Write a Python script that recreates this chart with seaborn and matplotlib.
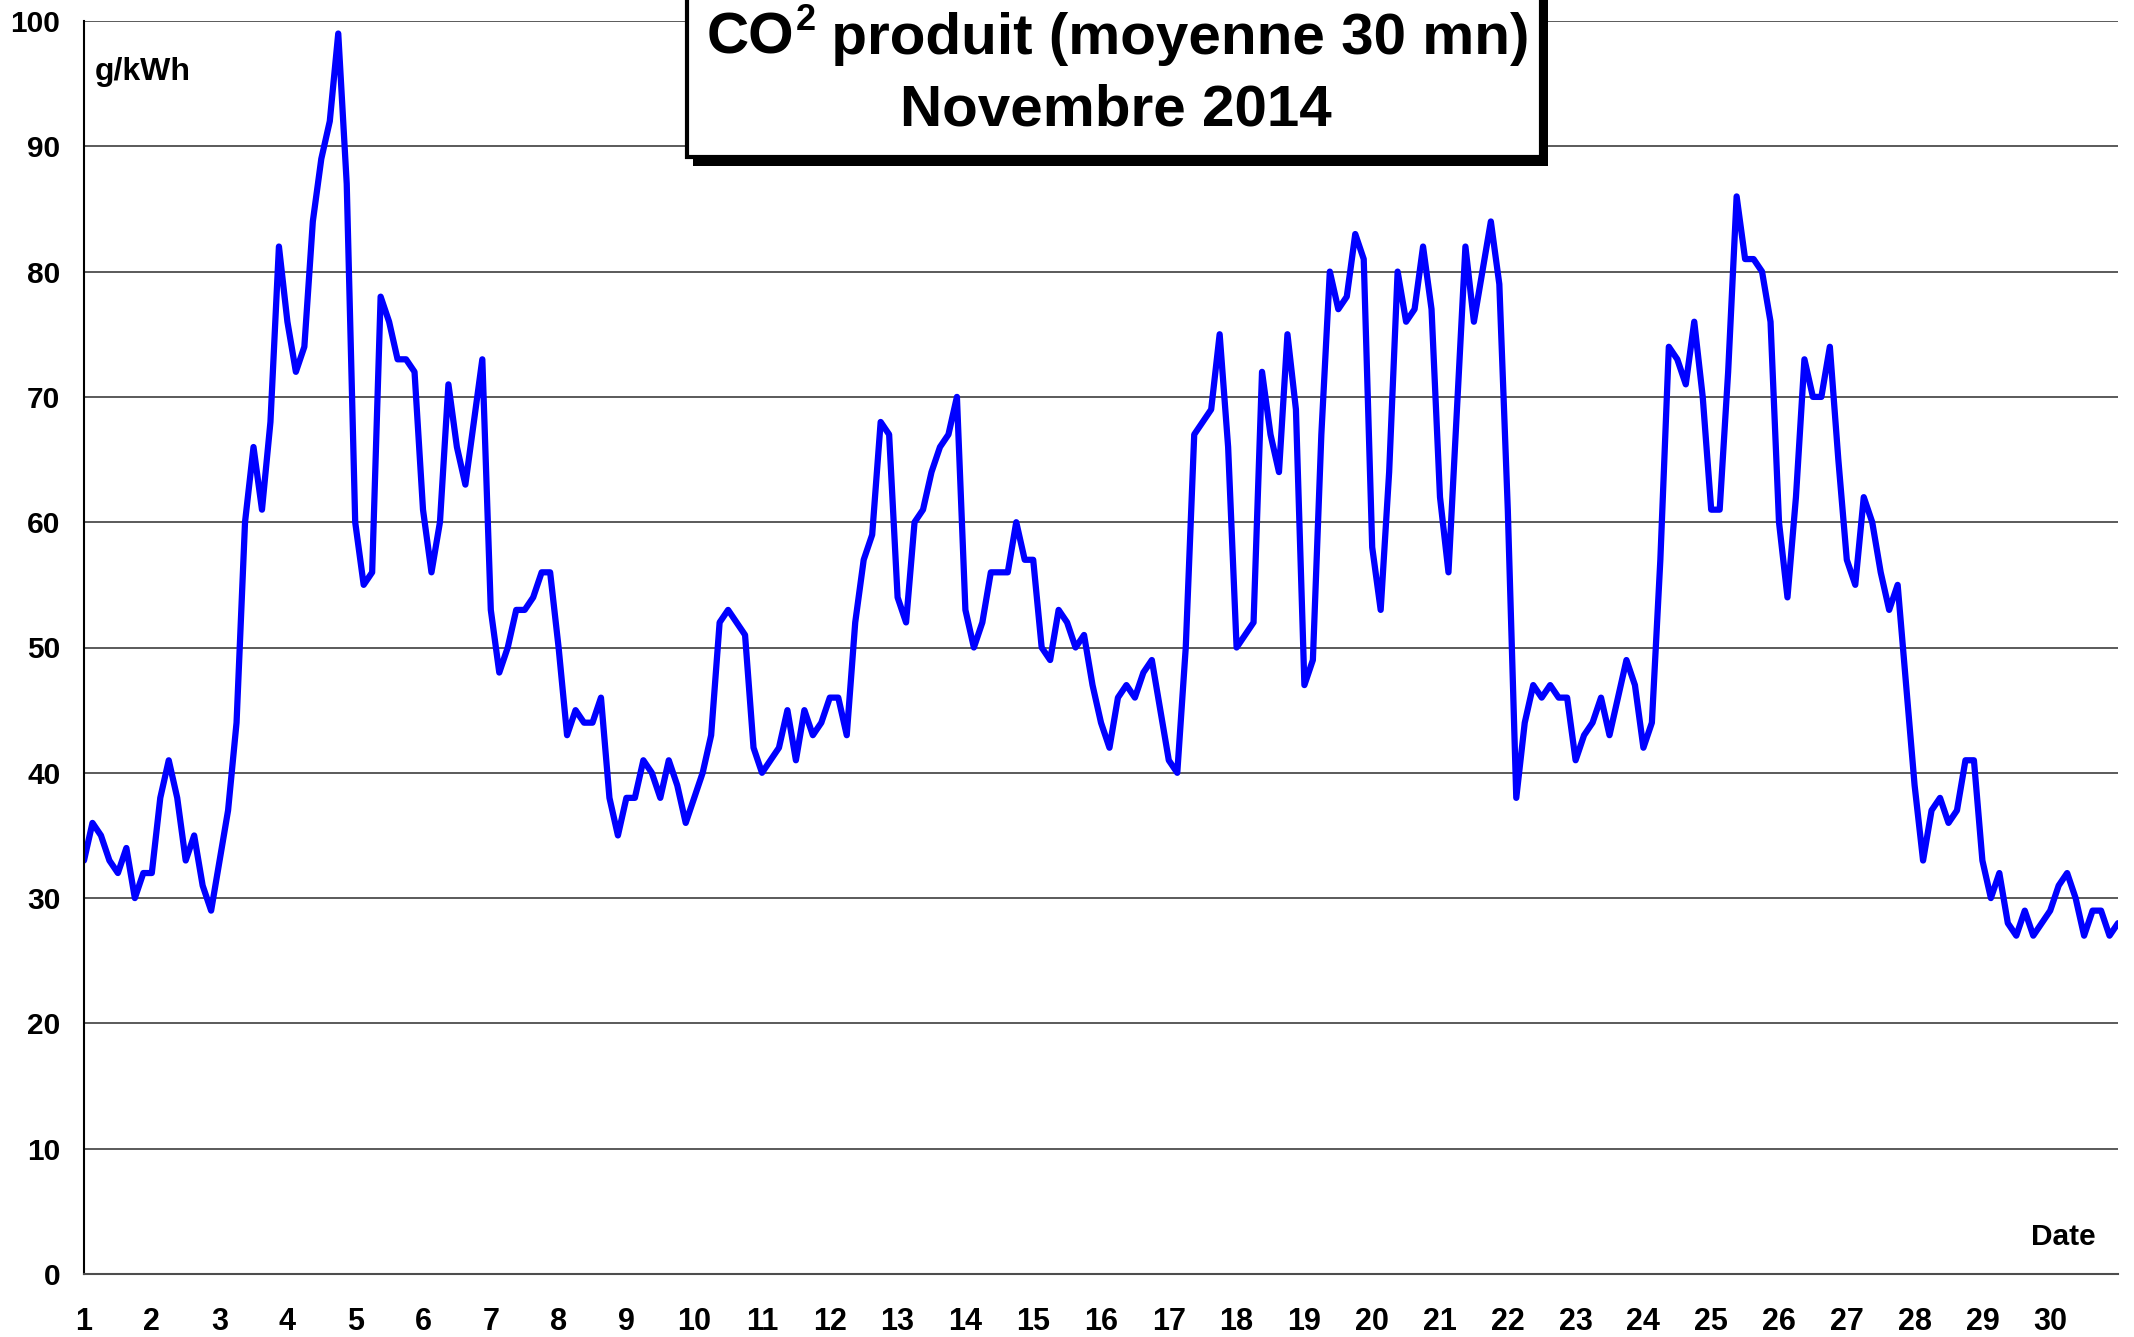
import numpy as np
import pandas as pd
import matplotlib
matplotlib.use("Agg")
import matplotlib.pyplot as plt
from matplotlib.patches import Rectangle
import seaborn as sns

# CO2 (g/kWh) every 3 hours, 8 values per day
week1 = [  # days 1-7
    33, 36, 35, 33, 32, 34, 30, 32,
    32, 38, 41, 38, 33, 35, 31, 29,
    33, 37, 44, 60, 66, 61, 68, 82,
    76, 72, 74, 84, 89, 92, 99, 87,
    60, 55, 56, 78, 76, 73, 73, 72,
    61, 56, 60, 71, 66, 63, 68, 73,
    53, 48, 50, 53, 53, 54, 56, 56,
]
week2 = [  # days 8-14
    50, 43, 45, 44, 44, 46, 38, 35,
    38, 38, 41, 40, 38, 41, 39, 36,
    38, 40, 43, 52, 53, 52, 51, 42,
    40, 41, 42, 45, 41, 45, 43, 44,
    46, 46, 43, 52, 57, 59, 68, 67,
    54, 52, 60, 61, 64, 66, 67, 70,
    53, 50, 52, 56, 56, 56, 60, 57,
]
week3 = [  # days 15-21
    57, 50, 49, 53, 52, 50, 51, 47,
    44, 42, 46, 47, 46, 48, 49, 45,
    41, 40, 50, 67, 68, 69, 75, 66,
    50, 51, 52, 72, 67, 64, 75, 69,
    47, 49, 67, 80, 77, 78, 83, 81,
    58, 53, 64, 80, 76, 77, 82, 77,
    62, 56, 69, 82, 76, 80, 84, 79,
]
week4 = [  # days 22-28
    61, 38, 44, 47, 46, 47, 46, 46,
    41, 43, 44, 46, 43, 46, 49, 47,
    42, 44, 57, 74, 73, 71, 76, 70,
    61, 61, 72, 86, 81, 81, 80, 76,
    60, 54, 62, 73, 70, 70, 74, 65,
    57, 55, 62, 60, 56, 53, 55, 47,
    39, 33, 37, 38, 36, 37, 41, 41,
]
week5 = [  # days 29-30, then midnight of the 31st
    33, 30, 32, 28, 27, 29, 27, 28,
    29, 31, 32, 30, 27, 29, 29, 27,
    28,
]

co2 = week1 + week2 + week3 + week4 + week5
date = 1 + np.arange(len(co2)) / 8
df = pd.DataFrame({"date": date, "co2": co2})

day_labels = [str(d) for d in range(1, 31)] + [""]
y_ticks = list(range(0, 101, 10))

W, H = 2134, 1337
sns.set_style("white")
plt.rcParams["font.family"] = ["Liberation Sans", "DejaVu Sans"]
plt.rcParams["font.weight"] = "bold"
plt.rcParams["text.color"] = "black"

fig = plt.figure(figsize=(W / 100, H / 100), dpi=100)
ax = fig.add_axes([84 / W, 1 - 1274 / H, (2118 - 84) / W, (1274 - 21) / H])

sns.lineplot(data=df, x="date", y="co2", ax=ax, color="#0000FF", linewidth=4.5)

ax.set_xlim(1, 31)
ax.set_ylim(0, 100)
ax.set_xlabel("")
ax.set_ylabel("")

ax.set_yticks(y_ticks)
ax.set_yticklabels([str(v) for v in y_ticks])
ax.set_xticks(range(1, 32))
ax.set_xticklabels(day_labels)
ax.set_xticks(np.arange(1.5, 31, 1), minor=True)

ax.yaxis.grid(True, color="#4d4d4d", linewidth=1.3)
ax.xaxis.grid(False)
ax.set_axisbelow(True)

for s in ["top", "right"]:
    ax.spines[s].set_visible(False)
ax.spines["left"].set_color("black")
ax.spines["left"].set_linewidth(1.5)
ax.spines["bottom"].set_color("#4d4d4d")
ax.spines["bottom"].set_linewidth(1.5)

ax.tick_params(axis="y", direction="out", length=7, width=1.3, color="#333333",
               labelcolor="black", pad=10, labelsize=21.5)
ax.tick_params(axis="x", which="major", direction="out", length=7, width=1.3,
               color="#333333", labelcolor="black", pad=17, labelsize=22)
ax.tick_params(axis="x", which="minor", direction="in", length=5, width=1.3,
               color="#333333")
for lab in ax.get_xticklabels() + ax.get_yticklabels():
    lab.set_fontweight("bold")

fig.text(95 / W, 1 - 72 / H, "g/kWh", fontsize=23, fontweight="bold", va="center", ha="left")
fig.text(2031 / W, 1 - 1237 / H, "Date", fontsize=21.5, fontweight="bold", va="center", ha="left")

# title box with drop shadow
shadow = Rectangle((693 / W, 1 - 166 / H), (1548 - 693) / W, 200 / H,
                   transform=fig.transFigure, facecolor="black", edgecolor="none", zorder=5)
box = Rectangle((687 / W, 1 - 157 / H), (1541 - 687) / W, 200 / H,
                transform=fig.transFigure, facecolor="white", edgecolor="black",
                linewidth=3, zorder=6)
fig.patches.extend([shadow, box])

# first title line: CO + raised 2 + rest, laid out from measured widths
t_co = fig.text(0, 1 - 54 / H, "CO", fontsize=42, fontweight="bold", ha="left", va="baseline", zorder=7)
t_2 = fig.text(0, 1 - 30 / H, "2", fontsize=26, fontweight="bold", ha="left", va="baseline", zorder=7)
t_rest = fig.text(0, 1 - 54 / H, " produit (moyenne 30 mn)", fontsize=42, fontweight="bold",
                  ha="left", va="baseline", zorder=7)
fig.canvas.draw()
r = fig.canvas.get_renderer()
widths = [t.get_window_extent(r).width for t in (t_co, t_2, t_rest)]
x0 = 1118 - sum(widths) / 2
t_co.set_x(x0 / W)
t_2.set_x((x0 + widths[0] + 1) / W)
t_rest.set_x((x0 + widths[0] + widths[1]) / W)

fig.text(1116 / W, 1 - 125 / H, "Novembre 2014", fontsize=42,
         fontweight="bold", ha="center", va="baseline", zorder=7)

fig.savefig("out.png", dpi=100)
